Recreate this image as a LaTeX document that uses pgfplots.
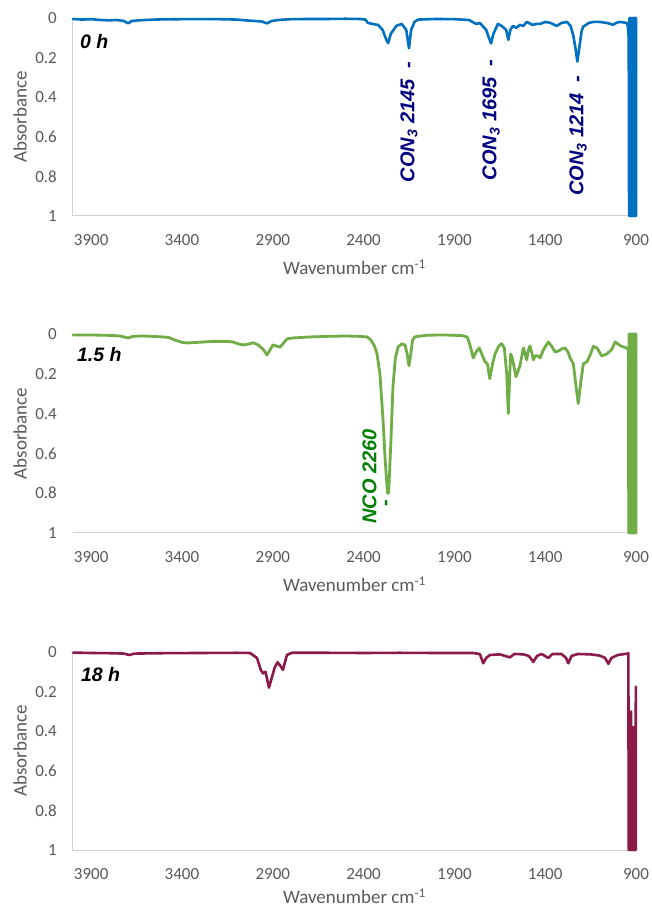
\documentclass[border=0pt]{standalone}
\usepackage{fontspec}
\setmainfont{Carlito}
\newfontfamily\arialf{Liberation Sans}
\usepackage{pgfplots}
\pgfplotsset{compat=1.18}
\definecolor{sblue}{HTML}{0070C0}
\definecolor{sgreen}{HTML}{70AD47}
\definecolor{smaroon}{HTML}{8B1A4A}
\definecolor{anavy}{HTML}{000080}
\definecolor{agreen}{HTML}{008000}
\definecolor{tickgray}{HTML}{595959}
\definecolor{axgray}{HTML}{D0D0D0}
\pgfplotsset{
 panel/.style={
  scale only axis, width=563pt, height=198pt,
  xmin=900, xmax=4000, x dir=reverse,
  ymin=0, ymax=1, y dir=reverse,
  xtick={900,1400,1900,2400,2900,3400,3900},
  xticklabels={900,1400,1900,2400,2900,3400,3900},
  ytick={0,0.2,0.4,0.6,0.8,1},
  yticklabels={0,0.2,0.4,0.6,0.8,1},
  major tick length=0pt,
  axis line style={draw=none},
  clip=false,
  tick label style={font=\fontsize{17}{20}\selectfont, text=tickgray},
  /pgf/number format/assume math mode=true,
  /pgf/number format/1000 sep={},
  xticklabel style={anchor=center, yshift=-24pt, inner sep=0pt},
  yticklabel style={anchor=east, xshift=-16pt, inner sep=0pt},
  xlabel={Wavenumber cm\textsuperscript{-1}},
  ylabel={Absorbance},
  every axis x label/.style={at={(axis description cs:0.5,-0.258)},anchor=center,font=\fontsize{19}{22}\selectfont,text=tickgray},
  every axis y label/.style={at={(axis description cs:-0.094,0.5)},rotate=90,anchor=center,font=\fontsize{19}{22}\selectfont,text=tickgray},
  every axis plot/.append style={line join=round, line cap=round, line width=2.6pt},
 },
}
\tikzset{
 annot/.style={rotate=90, anchor=west, inner sep=0pt, font=\fontsize{20}{24}\selectfont\arialf\bfseries\itshape},
 plabel/.style={anchor=west, inner sep=0pt, font=\fontsize{19.5}{24}\selectfont\arialf\bfseries\itshape, text=black},
}
\begin{document}
\begin{tikzpicture}
\path[use as bounding box] (0,0) rectangle (651pt,909pt);
% ---------------- 0 h ----------------
\begin{axis}[panel, at={(73pt,693pt)}, anchor=south west]
\draw[axgray, line width=1pt] (axis description cs:0,1) -- (axis description cs:0,0) -- (axis description cs:1,0);
\addplot[sblue] coordinates {
(4000,0.005) (3950,0.008) (3900,0.006) (3850,0.01) (3800,0.012) (3760,0.01) (3720,0.015) (3697,0.027) (3675,0.015) (3640,0.012) (3600,0.01) (3550,0.008) (3500,0.007) (3400,0.006) (3300,0.006) (3200,0.006) (3100,0.008) (3050,0.012) (3000,0.015) (2960,0.018) (2932,0.027) (2905,0.015) (2870,0.01) (2800,0.006) (2700,0.005) (2600,0.005) (2500,0.004) (2420,0.005) (2390,0.008) (2376,0.025) (2350,0.03) (2320,0.035) (2295,0.06) (2275,0.11) (2265,0.127) (2250,0.08) (2220,0.04) (2190,0.03) (2165,0.06) (2150,0.153) (2138,0.06) (2120,0.02) (2100,0.008) (2000,0.005) (1900,0.006) (1820,0.01) (1800,0.02) (1780,0.03) (1760,0.025) (1740,0.045) (1725,0.06) (1710,0.1) (1698,0.128) (1685,0.08) (1660,0.03) (1640,0.04) (1615,0.06) (1603,0.11) (1592,0.06) (1577,0.04) (1560,0.05) (1540,0.035) (1520,0.04) (1502,0.02) (1490,0.025) (1470,0.035) (1450,0.03) (1428,0.03) (1400,0.02) (1370,0.025) (1337,0.04) (1310,0.025) (1280,0.02) (1260,0.04) (1245,0.09) (1232,0.16) (1223,0.22) (1212,0.15) (1200,0.07) (1192,0.045) (1160,0.025) (1135,0.02) (1100,0.02) (1060,0.025) (1040,0.03) (1026,0.035) (1010,0.025) (990,0.02) (970,0.022) (951,0.025) (945,0.04) (940,0.1)
(938,1) (936,0) (934,1) (932,0) (930,1) (928,0) (926,1) (924,0) (922,1) (920,0) (918,1) (916,0) (914,1) (912,0) (910,1) (908,0) (906,1) (904,0) (902,1) (900,0) (900,1)
};
\node[annot, text=anavy] at (axis cs:2150,0.83) {CON\textsubscript{3} 2145\hspace{11pt}-};
\node[annot, text=anavy] at (axis cs:1698,0.82) {CON\textsubscript{3} 1695\hspace{11pt}-};
\node[annot, text=anavy] at (axis cs:1219,0.90) {CON\textsubscript{3} 1214\hspace{11pt}-};
\node[plabel] at (axis description cs:0.0124,0.88) {0 h};
\end{axis}
% ---------------- 1.5 h ----------------
\begin{axis}[panel, at={(73pt,376pt)}, anchor=south west, height=199pt]
\draw[axgray, line width=1pt] (axis description cs:0,0) -- (axis description cs:1,0);
\addplot[sgreen, line width=2.8pt] coordinates {
(4000,0.005) (3900,0.005) (3800,0.007) (3740,0.01) (3697,0.02) (3670,0.012) (3620,0.01) (3560,0.012) (3500,0.015) (3470,0.018) (3440,0.03) (3400,0.042) (3372,0.045) (3330,0.043) (3280,0.04) (3220,0.037) (3160,0.037) (3119,0.04) (3090,0.05) (3063,0.055) (3030,0.05) (3008,0.044) (2980,0.055) (2950,0.08) (2932,0.106) (2915,0.08) (2899,0.055) (2880,0.06) (2860,0.066) (2840,0.045) (2822,0.025) (2790,0.02) (2700,0.015) (2600,0.012) (2500,0.01) (2420,0.012) (2380,0.015) (2360,0.03) (2340,0.06) (2326,0.1) (2310,0.2) (2293,0.43) (2280,0.65) (2268,0.8) (2262,0.8) (2250,0.55) (2238,0.26) (2225,0.12) (2210,0.065) (2190,0.05) (2172,0.055) (2160,0.1) (2150,0.16) (2140,0.1) (2130,0.03) (2117,0.014) (2050,0.006) (1950,0.005) (1860,0.008) (1830,0.015) (1823,0.03) (1810,0.07) (1796,0.12) (1780,0.09) (1763,0.07) (1745,0.11) (1731,0.14) (1718,0.15) (1705,0.225) (1690,0.15) (1676,0.1) (1655,0.06) (1640,0.048) (1625,0.07) (1612,0.2) (1603,0.4) (1595,0.2) (1590,0.1) (1580,0.125) (1561,0.215) (1539,0.16) (1520,0.07) (1510,0.1) (1502,0.13) (1492,0.08) (1484,0.06) (1472,0.1) (1465,0.13) (1455,0.11) (1440,0.11) (1428,0.12) (1410,0.08) (1383,0.04) (1365,0.06) (1346,0.09) (1325,0.085) (1310,0.075) (1291,0.07) (1275,0.09) (1263,0.12) (1245,0.15) (1232,0.25) (1218,0.35) (1205,0.25) (1190,0.15) (1170,0.14) (1150,0.1) (1135,0.062) (1115,0.07) (1089,0.11) (1060,0.1) (1034,0.078) (1015,0.04) (1000,0.05) (988,0.058) (970,0.065) (951,0.07) (942,0.08)
(940,1) (938,0) (936,1) (934,0) (932,1) (930,0) (928,1) (926,0) (924,1) (922,0) (920,1) (918,0) (916,1) (914,0) (912,1) (910,0) (908,1) (906,0) (904,1) (902,0) (900,1) (900,0)
};
\node[annot, text=agreen] at (axis cs:2367,0.955) {NCO 2260};
\node[rotate=90, inner sep=0pt, text=agreen, font=\fontsize{20}{24}\selectfont\arialf\bfseries] at (axis cs:2265,0.85) {-};
\node[plabel] at (axis description cs:0.007,0.895) {1.5 h};
\end{axis}
% ---------------- 18 h ----------------
\begin{axis}[panel, at={(73pt,59pt)}, anchor=south west,
  every axis x label/.style={at={(axis description cs:0.5,-0.235)},anchor=center,font=\fontsize{19}{22}\selectfont,text=tickgray}]
\draw[axgray, line width=1pt] (axis description cs:0,1) -- (axis description cs:0,0) -- (axis description cs:1,0);
\addplot[smaroon] coordinates {
(4000,0.003) (3900,0.005) (3800,0.006) (3720,0.008) (3690,0.015) (3660,0.008) (3500,0.006) (3300,0.005) (3100,0.004) (3025,0.005) (2987,0.03) (2966,0.09) (2954,0.108) (2940,0.1) (2921,0.18) (2904,0.125) (2890,0.08) (2874,0.052) (2858,0.07) (2844,0.09) (2822,0.015) (2794,0.004) (2600,0.004) (2400,0.005) (2200,0.004) (2000,0.005) (1800,0.005) (1760,0.01) (1741,0.057) (1725,0.03) (1704,0.015) (1650,0.012) (1594,0.027) (1570,0.01) (1520,0.012) (1490,0.02) (1465,0.05) (1445,0.02) (1420,0.01) (1383,0.03) (1360,0.01) (1310,0.01) (1285,0.03) (1273,0.057) (1255,0.02) (1220,0.01) (1150,0.012) (1100,0.018) (1070,0.03) (1052,0.06) (1035,0.03) (1000,0.015) (960,0.01) (945,0.008) (942,0.005)
(940,1) (937,0.4) (935,1) (932,0.35) (930,1) (927,0.3) (925,1) (922,0.38) (920,1) (917,0.38) (915,1) (912,0.38) (910,1) (907,0.38) (905,1) (903,0.38) (902,1) (901,0.175) (900.5,1)
};
\node[plabel] at (axis description cs:0.014,0.884) {18 h};
\end{axis}
\end{tikzpicture}
\end{document}
